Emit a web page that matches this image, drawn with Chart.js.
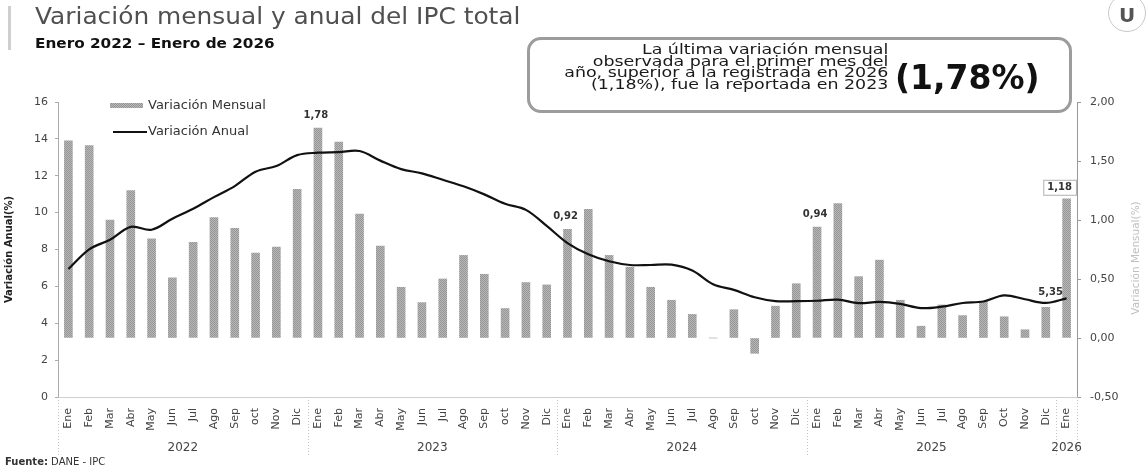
<!DOCTYPE html>
<html lang="es">
<head>
<meta charset="utf-8">
<title>Variación mensual y anual del IPC total</title>
<script src="https://cdn.jsdelivr.net/npm/chart.js@4.4.1/dist/chart.umd.min.js"></script>
<style>
    html, body { margin: 0; padding: 0; background: #fff; }
    body {
        width: 1146px; height: 474px; position: relative; overflow: hidden;
        font-family: 'DejaVu Sans', Verdana, sans-serif;
    }
    #ipcChart { position: absolute; left: 0; top: 0; }
    .side-bar { position: absolute; left: 8px; top: 6px; width: 3px; height: 44px; background: #cfcfcf; }
    .title {
        position: absolute; left: 35px; top: 3px; font-size: 23px; color: #505050; white-space: nowrap;
        transform: scaleX(1.08); transform-origin: left top;
    }
    .subtitle {
        position: absolute; left: 35px; top: 35px; font-size: 14px; font-weight: 700; color: #111; white-space: nowrap;
        transform: scaleX(1.09); transform-origin: left top;
    }
    .note {
        position: absolute; left: 527px; top: 37px; width: 539px; height: 70px;
        border: 3px solid #9c9c9c; border-radius: 14px; background: #fff;
    }
    .note-text {
        position: absolute; right: 181px; top: 4px; text-align: right;
        font-size: 14px; line-height: 11.7px; color: #1a1a1a; white-space: nowrap;
        transform: scaleX(1.245); transform-origin: right top;
    }
    .note-big {
        position: absolute; left: 365px; top: 20px; font-size: 33px; line-height: 36px;
        font-weight: 700; color: #111; white-space: nowrap;
    }
    .logo {
        position: absolute; left: 1108px; top: -6px; width: 36px; height: 36px;
        border: 1px solid #c8c8c8; border-radius: 50%; text-align: center;
        font-size: 20px; font-weight: 700; color: #555; line-height: 40px;
    }
    .source { position: absolute; left: 5px; top: 456px; font-size: 10px; color: #333; white-space: nowrap; }
</style>
</head>
<body>
<canvas id="ipcChart" width="1146" height="474"></canvas>
<div class="side-bar"></div>
<div class="title">Variación mensual y anual del IPC total</div>
<div class="subtitle">Enero 2022 – Enero de 2026</div>
<div class="note">
    <div class="note-text">La última variación mensual<br>observada para el primer mes del<br>año, superior a la registrada en 2026<br>(1,18%), fue la reportada en 2023</div>
    <div class="note-big">(1,78%)</div>
</div>
<div class="logo">U</div>
<div class="source"><b>Fuente:</b> DANE - IPC</div>

<script>
(function () {
    'use strict';

    const monthLabels = [
        'Ene', 'Feb', 'Mar', 'Abr', 'May', 'Jun', 'Jul', 'Ago', 'Sep', 'oct', 'Nov', 'Dic',
        'Ene', 'Feb', 'Mar', 'Abr', 'May', 'Jun', 'Jul', 'Ago', 'Sep', 'oct', 'Nov', 'Dic',
        'Ene', 'Feb', 'Mar', 'Abr', 'May', 'Jun', 'Jul', 'Ago', 'Sep', 'oct', 'Nov', 'Dic',
        'Ene', 'Feb', 'Mar', 'Abr', 'May', 'Jun', 'Jul', 'Ago', 'Sep', 'Oct', 'Nov', 'Dic',
        'Ene',
    ];

    const yearLabels = ['2022', '2023', '2024', '2025', '2026'];
    const monthsPerYear = [12, 12, 12, 12, 1];

    const variacionMensual = [
        1.67, 1.63, 1.00, 1.25, 0.84, 0.51, 0.81, 1.02, 0.93, 0.72, 0.77, 1.26,
        1.78, 1.66, 1.05, 0.78, 0.43, 0.30, 0.50, 0.70, 0.54, 0.25, 0.47, 0.45,
        0.92, 1.09, 0.70, 0.60, 0.43, 0.32, 0.20, 0.00, 0.24, -0.13, 0.27, 0.46,
        0.94, 1.14, 0.52, 0.66, 0.32, 0.10, 0.28, 0.19, 0.31, 0.18, 0.07, 0.26,
        1.18,
    ];

    const variacionAnual = [
        6.94, 8.01, 8.53, 9.23, 9.07, 9.67, 10.21, 10.84, 11.44, 12.22, 12.53, 13.12,
        13.25, 13.28, 13.34, 12.82, 12.36, 12.13, 11.78, 11.43, 10.99, 10.48, 10.15, 9.28,
        8.35, 7.74, 7.36, 7.16, 7.16, 7.18, 6.86, 6.12, 5.81, 5.41, 5.20, 5.20,
        5.22, 5.28, 5.09, 5.16, 5.05, 4.82, 4.90, 5.10, 5.18, 5.51, 5.30, 5.10,
        5.35,
    ];

    // puntos con etiqueta de valor
    const mensualDestacados = [12, 24, 36, 48];
    const anualDestacados = [48];

    const fontFamily = "'DejaVu Sans', Verdana, sans-serif";

    function fmt(v, dec) {
        return v.toFixed(dec).replace('.', ',');
    }

    function barPattern() {
        const c = document.createElement('canvas');
        c.width = 2;
        c.height = 2;
        const g = c.getContext('2d');
        g.fillStyle = '#b8b8b8';
        g.fillRect(0, 0, 2, 2);
        g.fillStyle = '#959595';
        g.fillRect(0, 0, 1, 1);
        g.fillRect(1, 1, 1, 1);
        return g.createPattern(c, 'repeat');
    }

    const overlayPlugin = {
        id: 'overlay',
        afterDraw(chart) {
            const ctx = chart.ctx;
            const xs = chart.scales.x;
            const yL = chart.scales.y;
            const yR = chart.scales.y1;
            const area = chart.chartArea;
            const half = (xs.getPixelForValue(1) - xs.getPixelForValue(0)) / 2;

            ctx.save();

            // separadores y etiquetas de año
            ctx.strokeStyle = '#c4c4c4';
            ctx.lineWidth = 1;
            ctx.setLineDash([1, 2]);
            ctx.font = '12px ' + fontFamily;
            ctx.fillStyle = '#444';
            ctx.textAlign = 'center';
            ctx.textBaseline = 'middle';
            let start = 0;
            yearLabels.forEach((year, i) => {
                const end = start + monthsPerYear[i] - 1;
                const left = xs.getPixelForValue(start) - half;
                const right = xs.getPixelForValue(end) + half;
                ctx.beginPath();
                ctx.moveTo(Math.round(left) + 0.5, area.bottom);
                ctx.lineTo(Math.round(left) + 0.5, 456);
                ctx.stroke();
                if (i === yearLabels.length - 1) {
                    ctx.beginPath();
                    ctx.moveTo(Math.round(right) + 0.5, area.bottom);
                    ctx.lineTo(Math.round(right) + 0.5, 456);
                    ctx.stroke();
                }
                ctx.fillText(year, (left + right) / 2, 448);
                start = end + 1;
            });
            ctx.setLineDash([]);

            // leyenda
            ctx.fillStyle = chart.data.datasets[1].backgroundColor;
            ctx.fillRect(110, 103, 33, 5);
            ctx.strokeStyle = '#111';
            ctx.lineWidth = 2;
            ctx.beginPath();
            ctx.moveTo(113, 132);
            ctx.lineTo(147, 132);
            ctx.stroke();
            ctx.font = '13px ' + fontFamily;
            ctx.fillStyle = '#333';
            ctx.textAlign = 'left';
            ctx.fillText('Variación Mensual', 148, 106);
            ctx.fillText('Variación Anual', 148, 132);

            // etiquetas de valores
            ctx.font = 'bold 10px ' + fontFamily;
            ctx.fillStyle = '#333';
            ctx.textAlign = 'center';
            mensualDestacados.forEach((idx) => {
                const v = variacionMensual[idx];
                const px = xs.getPixelForValue(idx);
                const py = yR.getPixelForValue(v);
                const text = fmt(v, 2);
                if (idx === mensualDestacados[mensualDestacados.length - 1]) {
                    const w = ctx.measureText(text).width + 8;
                    ctx.strokeStyle = '#b0b0b0';
                    ctx.lineWidth = 1;
                    ctx.fillStyle = '#fff';
                    ctx.fillRect(px - 7 - w / 2, py - 19, w, 15);
                    ctx.strokeRect(px - 7 - w / 2 + 0.5, py - 18.5, w, 15);
                    ctx.fillStyle = '#333';
                    ctx.fillText(text, px - 7, py - 11);
                } else {
                    ctx.fillText(text, px - 2, py - 13);
                }
            });
            anualDestacados.forEach((idx) => {
                const v = variacionAnual[idx];
                const px = xs.getPixelForValue(idx);
                const py = yL.getPixelForValue(v);
                ctx.fillText(fmt(v, 2), px - 16, py - 6);
            });

            // título eje derecho
            ctx.translate(1136, 258);
            ctx.rotate(-Math.PI / 2);
            ctx.font = '10.5px ' + fontFamily;
            ctx.fillStyle = '#c0c0c0';
            ctx.fillText('Variación Mensual(%)', 0, 0);

            ctx.restore();
        },
    };

    function initChart() {
        const canvas = document.getElementById('ipcChart');
        if (!canvas || typeof Chart === 'undefined') return;

        new Chart(canvas, {
            type: 'bar',
            data: {
                labels: monthLabels,
                datasets: [
                    {
                        type: 'line',
                        label: 'Variación Anual',
                        data: variacionAnual,
                        borderColor: '#111',
                        borderWidth: 2.2,
                        pointRadius: 0,
                        tension: 0.35,
                        fill: false,
                        yAxisID: 'y',
                        order: 0,
                    },
                    {
                        type: 'bar',
                        label: 'Variación Mensual',
                        data: variacionMensual,
                        backgroundColor: barPattern(),
                        barThickness: 8,
                        yAxisID: 'y1',
                        order: 1,
                    },
                ],
            },
            options: {
                responsive: false,
                animation: false,
                layout: { padding: { top: 102, left: 0, right: 0, bottom: 0 } },
                plugins: {
                    legend: { display: false },
                    tooltip: { enabled: false },
                },
                scales: {
                    x: {
                        offset: true,
                        afterFit: (s) => { s.height = 77; },
                        grid: { display: false },
                        border: { display: true, color: '#cfcfcf' },
                        ticks: {
                            autoSkip: false,
                            maxRotation: 90,
                            minRotation: 90,
                            padding: 3,
                            color: '#444',
                            font: { family: fontFamily, size: 11 },
                        },
                    },
                    y: {
                        position: 'left',
                        min: 0,
                        max: 16,
                        afterFit: (s) => { s.width = 58; },
                        grid: { drawOnChartArea: false, tickLength: 3, color: '#aaa' },
                        border: { display: true, color: '#aaa', dash: [1, 1] },
                        ticks: {
                            stepSize: 2,
                            padding: 7,
                            color: '#444',
                            font: { family: fontFamily, size: 11 },
                        },
                        title: {
                            display: true,
                            text: 'Variación Anual(%)',
                            color: '#222',
                            font: { family: fontFamily, size: 10, weight: 'bold' },
                            padding: { top: 3, bottom: 0 },
                        },
                    },
                    y1: {
                        position: 'right',
                        min: -0.5,
                        max: 2,
                        afterFit: (s) => { s.width = 69; },
                        grid: { drawOnChartArea: false, tickLength: 4, color: '#999' },
                        border: { display: true, color: '#999', dash: [1, 1] },
                        ticks: {
                            stepSize: 0.5,
                            padding: 9,
                            color: '#444',
                            font: { family: fontFamily, size: 11 },
                            callback: (v) => fmt(v, 2),
                        },
                    },
                },
            },
            plugins: [overlayPlugin],
        });
    }

    document.addEventListener('DOMContentLoaded', initChart);
})();
</script>
</body>
</html>
